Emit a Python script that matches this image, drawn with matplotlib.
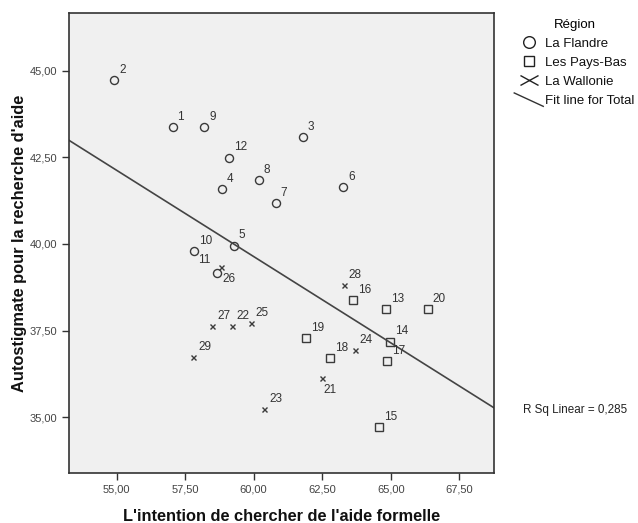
import numpy as np
import matplotlib
matplotlib.use("Agg")
import matplotlib.pyplot as plt
from matplotlib.lines import Line2D
from matplotlib.path import Path
from matplotlib.legend_handler import HandlerBase

plt.rcParams['font.family'] = ['Liberation Sans', 'DejaVu Sans']

# numéro du cas, intention (x), autostigmate (y)
ids = list(range(1, 30))
intention = [57.04, 54.91, 61.79, 58.84, 59.28, 63.27, 60.81, 60.19, 58.20, 57.82,
             58.65, 59.11,
             64.83, 64.97, 64.58, 63.62, 64.88, 62.78, 61.91, 66.35,
             62.50, 59.20, 60.39, 63.70, 59.90, 58.81, 58.49, 63.28, 57.80]
autostigmate = [43.37, 44.72, 43.09, 41.58, 39.95, 41.65, 41.18, 41.84, 43.37, 39.80,
                39.17, 42.49,
                38.11, 37.18, 34.72, 38.39, 36.63, 36.70, 37.29, 38.11,
                36.14, 37.63, 35.24, 36.93, 37.72, 39.32, 37.63, 38.82, 36.73]
region = ["La Flandre"] * 12 + ["Les Pays-Bas"] * 8 + ["La Wallonie"] * 9

regions = ["La Flandre", "Les Pays-Bas", "La Wallonie"]
markers = {"La Flandre": "o", "Les Pays-Bas": "s", "La Wallonie": "x"}
msize = {"La Flandre": 5.8, "Les Pays-Bas": 6.0, "La Wallonie": 3.6}
col = "#3a3a3a"

fig = plt.figure(figsize=(6.38, 5.23), dpi=100)
ax = fig.add_axes([69 / 638, 50 / 523, 425 / 638, 460 / 523])
ax.set_facecolor("#f0f0f0")

x = np.array(intention)
y = np.array(autostigmate)
for r in regions:
    idx = [i for i, g in enumerate(region) if g == r]
    ax.plot(x[idx], y[idx], linestyle="none", marker=markers[r], ms=msize[r],
            mfc="none", mec=col, mew=1.0)

# étiquettes des cas (décalage en points)
offsets = {11: (-13.5, 5), 21: (1, -13.5), 26: (1, -12.5)}
for i, (a, b) in enumerate(zip(x, y)):
    n = ids[i]
    dx, dy = offsets.get(n, (3.5, 3))
    ax.annotate(str(n), (a, b), xytext=(dx, dy), textcoords="offset points",
                fontsize=8.5, color="#333333", ha="left", va="bottom")

xlim = (53.26, 68.77)
ax.set_xlim(*xlim)
ax.set_ylim(33.39, 46.66)

# droite de régression sur l'ensemble
pente, orig = np.polyfit(x, y, 1)
xs = np.array(xlim)
ax.plot(xs, orig + pente * xs, color="#444444", lw=1.2)

xticks = [55, 57.5, 60, 62.5, 65, 67.5]
yticks = [35, 37.5, 40, 42.5, 45]
ax.set_xticks(xticks)
ax.set_xticklabels([f"{t:.2f}".replace(".", ",") for t in xticks])
ax.set_yticks(yticks)
ax.set_yticklabels([f"{t:.2f}".replace(".", ",") for t in yticks])
ax.tick_params(labelsize=8, length=5, width=1, colors="#333333", labelcolor="#444444")
for s in ax.spines.values():
    s.set_color("#333333")
    s.set_linewidth(1.2)

ax.set_xlabel("L'intention de chercher de l'aide formelle", fontsize=11.8,
              fontweight="bold", labelpad=10, color="#111111")
ax.set_ylabel("Autostigmate pour la recherche d'aide", fontsize=11.8,
              fontweight="bold", labelpad=1.5, color="#111111")


class DiagHandler(HandlerBase):
    def create_artists(self, legend, orig_handle, xdescent, ydescent,
                       width, height, fontsize, trans):
        ln = Line2D([-xdescent, width - xdescent], [height - ydescent + 1, -ydescent - 2],
                    color="#333333", lw=1.0, transform=trans)
        return [ln]


croix = Path([(-1, -0.55), (1, 0.55), (-1, 0.55), (1, -0.55)],
             [Path.MOVETO, Path.LINETO, Path.MOVETO, Path.LINETO])
handles = [Line2D([], [], linestyle="none", marker="o", ms=8.4, mfc="none", mec="#222222", mew=1.0),
           Line2D([], [], linestyle="none", marker="s", ms=7.7, mfc="none", mec="#222222", mew=1.0),
           Line2D([], [], linestyle="none", marker=croix, ms=13, mec="#222222", mew=1.0),
           Line2D([], [], color="#333333")]
labels = regions + ["Fit line for Total"]
leg = fig.legend(handles, labels, loc="upper left", bbox_to_anchor=(505 / 638, 1 - 10 / 523),
                 frameon=False, title="Région", fontsize=9.5, title_fontsize=9.5,
                 handlelength=2.2, handletextpad=0.15, labelspacing=0.5, borderpad=0.2,
                 handler_map={handles[3]: DiagHandler()})
for t in leg.get_texts():
    t.set_color("#111111")

fig.text(523 / 638, 1 - 410 / 523, "R Sq Linear = 0,285", fontsize=8.4,
         color="#222222", ha="left", va="center")

fig.savefig("out.png", dpi=100)
